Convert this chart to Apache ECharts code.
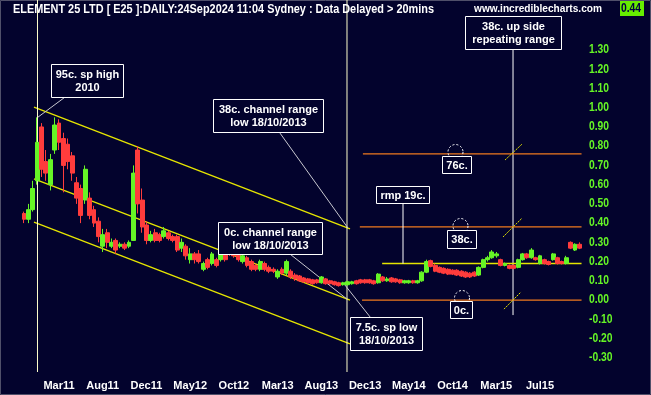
<!DOCTYPE html>
<html><head><meta charset="utf-8">
<script src="https://cdn.jsdelivr.net/npm/echarts@6/dist/echarts.min.js"></script>
<style>html,body{margin:0;padding:0;background:#03032d;}#c{width:651px;height:395px;}</style>
</head><body><div id="c"></div>
<script>
// ---- data (one candle per ~10 trading days, category index = position on axis) ----
const nCats = 132;
const firstIdx = 4;
const opens  = [0.45,0.42,0.47,0.62,0.90,0.72,0.60,0.78,0.92,0.84,0.81,0.75,0.61,0.58,0.52,0.53,0.47,0.41,0.28,0.35,
0.28,0.31,0.28,0.29,0.28,0.31,0.78,0.52,0.39,0.31,0.35,0.34,0.33,0.35,0.33,0.33,0.27,0.28,0.21,0.24,
0.24,0.16,0.21,0.19,0.21,0.21,0.26,0.29,0.27,0.25,0.20,0.22,0.20,0.18,0.16,0.19,0.17,0.16,0.12,0.16,
0.14,0.15,0.13,0.125,0.115,0.11,0.105,0.105,0.09,0.11,0.10,0.095,0.09,0.08,0.08,0.085,0.10,0.105,0.105,0.105,
0.10,0.09,0.12,0.10,0.115,0.11,0.105,0.09,0.09,0.10,0.09,0.10,0.145,0.205,0.18,0.17,0.165,0.16,0.155,0.155,
0.15,0.145,0.14,0.145,0.13,0.17,0.21,0.22,0.23,0.21,0.18,0.18,0.18,0.17,0.21,0.24,0.22,0.22,0.19,0.21,
0.20,0.21,0.22,0.20,0.19,0.30,0.26,0.29];
const closes = [0.42,0.47,0.58,0.82,0.68,0.66,0.73,0.91,0.82,0.70,0.72,0.66,0.53,0.44,0.68,0.44,0.40,0.33,0.34,0.30,
0.30,0.26,0.29,0.27,0.30,0.66,0.50,0.38,0.31,0.34,0.31,0.31,0.36,0.32,0.31,0.26,0.30,0.23,0.24,0.21,
0.20,0.19,0.17,0.24,0.18,0.25,0.21,0.24,0.23,0.21,0.23,0.18,0.16,0.16,0.20,0.16,0.15,0.15,0.15,0.14,
0.20,0.12,0.11,0.10,0.095,0.09,0.085,0.09,0.12,0.085,0.085,0.08,0.075,0.09,0.095,0.095,0.085,0.09,0.09,0.09,
0.085,0.135,0.10,0.11,0.095,0.095,0.09,0.10,0.10,0.09,0.10,0.145,0.20,0.175,0.15,0.145,0.14,0.135,0.135,0.13,
0.125,0.12,0.12,0.125,0.17,0.21,0.22,0.25,0.24,0.18,0.19,0.165,0.165,0.21,0.24,0.22,0.26,0.21,0.23,0.19,
0.185,0.24,0.19,0.19,0.22,0.27,0.29,0.27];
const lows   = [0.40,0.40,0.46,0.60,0.64,0.62,0.57,0.76,0.78,0.56,0.68,0.62,0.50,0.40,0.50,0.42,0.38,0.30,0.25,0.27,
0.27,0.24,0.27,0.26,0.27,0.33,0.45,0.35,0.29,0.30,0.30,0.30,0.32,0.31,0.30,0.25,0.25,0.21,0.19,0.19,
0.19,0.15,0.16,0.18,0.17,0.20,0.20,0.23,0.22,0.20,0.19,0.17,0.15,0.15,0.15,0.15,0.14,0.14,0.11,0.13,
0.13,0.11,0.10,0.095,0.09,0.085,0.08,0.085,0.085,0.08,0.08,0.075,0.07,0.075,0.075,0.08,0.08,0.085,0.085,0.085,
0.08,0.085,0.095,0.095,0.09,0.09,0.085,0.085,0.085,0.085,0.085,0.095,0.14,0.17,0.145,0.14,0.135,0.13,0.13,0.125,
0.12,0.115,0.115,0.12,0.125,0.165,0.20,0.215,0.22,0.175,0.175,0.16,0.16,0.165,0.205,0.215,0.215,0.205,0.185,0.185,
0.18,0.205,0.185,0.185,0.185,0.265,0.255,0.265];
const highs  = [0.46,0.50,0.62,0.95,0.92,0.78,0.76,0.95,0.94,0.87,0.84,0.77,0.64,0.60,0.70,0.56,0.49,0.43,0.37,0.37,
0.32,0.32,0.30,0.30,0.31,0.70,0.80,0.58,0.41,0.36,0.37,0.35,0.38,0.36,0.34,0.34,0.32,0.29,0.27,0.25,
0.26,0.20,0.22,0.25,0.22,0.26,0.27,0.30,0.28,0.26,0.24,0.23,0.21,0.19,0.21,0.20,0.18,0.17,0.16,0.17,
0.21,0.16,0.14,0.13,0.12,0.115,0.11,0.11,0.125,0.115,0.105,0.10,0.095,0.095,0.10,0.10,0.105,0.11,0.11,0.11,
0.105,0.14,0.125,0.12,0.12,0.115,0.11,0.105,0.105,0.105,0.105,0.15,0.21,0.21,0.19,0.175,0.17,0.165,0.16,0.16,
0.155,0.15,0.145,0.15,0.175,0.215,0.23,0.26,0.25,0.215,0.195,0.185,0.185,0.215,0.245,0.245,0.27,0.225,0.235,0.215,
0.205,0.245,0.225,0.205,0.23,0.305,0.295,0.30];
const xTickLabels = ['Mar11','Aug11','Dec11','May12','Oct12','Mar13','Aug13','Dec13','May14','Oct14','Mar15','Jul15'];
const xTickIndex  = [12,22,32,42,52,62,72,82,92,102,112,122];
const yTickValues = [-0.3,-0.2,-0.1,0,0.1,0.2,0.3,0.4,0.5,0.6,0.7,0.8,0.9,1.0,1.1,1.2,1.3];
const levelValues = [0, 0.38, 0.76];
const rmpValue = 0.19;

// ---- build ----
const categories = Array.from({length: nCats}, (_, i) => {
  const k = xTickIndex.indexOf(i); return k >= 0 ? xTickLabels[k] : 'p' + i;
});
const candleData = opens.map((o, k) => [firstIdx + k, o, closes[k], lows[k], highs[k]]);

const BG = '#03032d', GREEN = '#66f526', RED = '#ff3c3c', YEL = '#e6e600', ORG = '#f07a1e', CREAM = '#ffffcc', GREY = '#c8c8d0';
const SANS = "'Liberation Sans',Arial,sans-serif";

const mctx = document.createElement('canvas').getContext('2d');
function fitScale(text, font, target) { mctx.font = font; return target / mctx.measureText(text).width; }

function seg(points, color, width, type) {
  return {type: 'line', xAxisIndex: 1, yAxisIndex: 0, data: points, symbol: 'none', silent: true,
    animation: false, z: 3, lineStyle: {color: color, width: width || 1, type: type || 'solid'}};
}
const annotations = [
  seg([[6.78, 1.003], [79.05, 0.37]], YEL, 1.3),
  seg([[6.78, 0.63], [79.05, 0.0]], YEL, 1.3),
  seg([[6.78, 0.405], [79.05, -0.228]], YEL, 1.3),
  seg([[7.58, 1.56], [7.58, -0.374]], CREAM, 1),
  seg([[78.36, 1.56], [78.36, -0.374]], CREAM, 1),
  seg([[116.33, 1.305], [116.33, -0.078]], '#ffffff', 1),
  seg([[82.0, levelValues[2]], [132, levelValues[2]]], ORG, 1.3),
  seg([[81.3, levelValues[1]], [132, levelValues[1]]], ORG, 1.3),
  seg([[81.8, levelValues[0]], [132, levelValues[0]]], ORG, 1.3),
  seg([[86.4, rmpValue], [132, rmpValue]], YEL, 1.3),
  seg([[91.17, 0.504], [91.17, rmpValue]], '#ffffff', 1),
  seg([[13.87, 1.055], [7.70, 0.951]], GREY, 1),
  seg([[63.04, 0.868], [78.59, 0.374]], GREY, 1),
  seg([[65.33, 0.239], [78.36, 0.005]], GREY, 1),
  seg([[77.9, 0.078], [83.85, -0.094]], GREY, 1),
  seg([[114.5, 0.728], [118.4, 0.811]], YEL, 1, [2, 1]),
  seg([[114.04, 0.328], [118.4, 0.426]], YEL, 1, [2, 1]),
  seg([[114.27, -0.047], [118.16, 0.042]], YEL, 1, [2, 1])
];

function box(x0, y0, x1, y1, text) {
  return {type: 'group', z: 50, children: [
    {type: 'rect', shape: {x: x0 + 0.5, y: y0 + 0.5, width: x1 - x0, height: y1 - y0},
     style: {fill: BG, stroke: '#ffffff', lineWidth: 1}, z: 50},
    {type: 'text', x: (x0 + x1) / 2 + 0.5, y: (y0 + y1) / 2 + 1, z: 51,
     style: {text: text, fill: '#ffffff', font: 'bold 11px ' + SANS, align: 'center', verticalAlign: 'middle', lineHeight: 13}}
  ]};
}
function ring(cx, cy, r) {
  return {type: 'circle', z: 40, shape: {cx: cx, cy: cy, r: r},
    style: {fill: null, stroke: '#ffffff', lineWidth: 1, lineDash: [2, 2]}};
}
function scaledText(x, y, text, font, fill, target, align) {
  return {type: 'text', x: x, y: y, z: 60, scaleX: fitScale(text, font, target), originX: 0,
    style: {text: text, fill: fill, font: font, verticalAlign: 'middle', align: align || 'left'}};
}

const chart = echarts.init(document.getElementById('c'), null, {renderer: 'canvas'});
const option = {
  backgroundColor: BG,
  animation: false,
  grid: {left: 4.34, top: 0, width: 577.2, height: 372, containLabel: false},
  xAxis: [
    {type: 'category', data: categories, boundaryGap: true,
     axisLine: {show: false}, axisTick: {show: false}, splitLine: {show: false},
     axisLabel: {interval: (i) => xTickIndex.indexOf(i) >= 0, color: '#ffffff', fontWeight: 'bold',
       fontFamily: SANS, fontSize: 11, margin: 8}},
    {type: 'value', min: 0, max: nCats, show: false}
  ],
  yAxis: [{type: 'value', position: 'right', min: -0.374, max: 1.56, scale: true,
    axisLine: {show: false}, axisTick: {show: false}, splitLine: {show: false}, axisLabel: {show: false}}],
  series: [{
    type: 'candlestick', xAxisIndex: 0, yAxisIndex: 0, data: candleData,
    encode: {x: 0, y: [1, 2, 3, 4]}, barWidth: 4.4, z: 5,
    itemStyle: {color: GREEN, color0: RED, borderColor: GREEN, borderColor0: RED, borderWidth: 1}
  }].concat(annotations)
};
chart.setOption(option);

const yLabelFont = 'bold 12px ' + SANS;
const yLabels = yTickValues.map((v) => {
  const py = chart.convertToPixel({yAxisIndex: 0}, v);
  const t = v.toFixed(2);
  return {type: 'text', x: 589, y: py, z: 60, scaleX: 0.86,
    style: {text: t, fill: GREEN, font: yLabelFont, verticalAlign: 'middle'}};
});
const titleText = 'ELEMENT 25 LTD [ E25 ]:DAILY:24Sep2024 11:04 Sydney : Data Delayed > 20mins';
chart.setOption({graphic: [
  {type: 'rect', z: 1, silent: true, shape: {x: 0.5, y: 0.5, width: 650, height: 394},
   style: {fill: null, stroke: '#50506a', lineWidth: 1}},
  scaledText(13, 10, titleText, 'bold 12px ' + SANS, '#ffffff', 421),
  scaledText(474, 9, 'www.incrediblecharts.com', 'bold 11px ' + SANS, '#ffffff', 128),
  {type: 'rect', z: 60, shape: {x: 620, y: 1, width: 24, height: 15}, style: {fill: '#66ee00'}},
  {type: 'text', x: 621, y: 9, z: 61, scaleX: 0.86, style: {text: '0.44', fill: '#000040', font: 'bold 12px ' + SANS, verticalAlign: 'middle'}},
  ring(455.5, 152, 7.5), ring(460.5, 226, 7.5), ring(462, 298, 7.5),
  box(51, 64, 123, 97, '95c. sp high\n2010'),
  box(213, 99, 323, 132, '38c. channel range\nlow 18/10/2013'),
  box(218, 222, 322, 254, '0c. channel range\nlow 18/10/2013'),
  box(350, 317, 422, 350, '7.5c. sp low\n18/10/2013'),
  box(376, 186, 429, 203, 'rmp 19c.'),
  box(442, 156, 471, 173, '76c.'),
  box(447, 230, 476, 248, '38c.'),
  box(450, 301, 472, 318, '0c.'),
  box(465, 16, 561, 49, '38c. up side\nrepeating range')
].concat(yLabels)});
</script>
</body></html>
